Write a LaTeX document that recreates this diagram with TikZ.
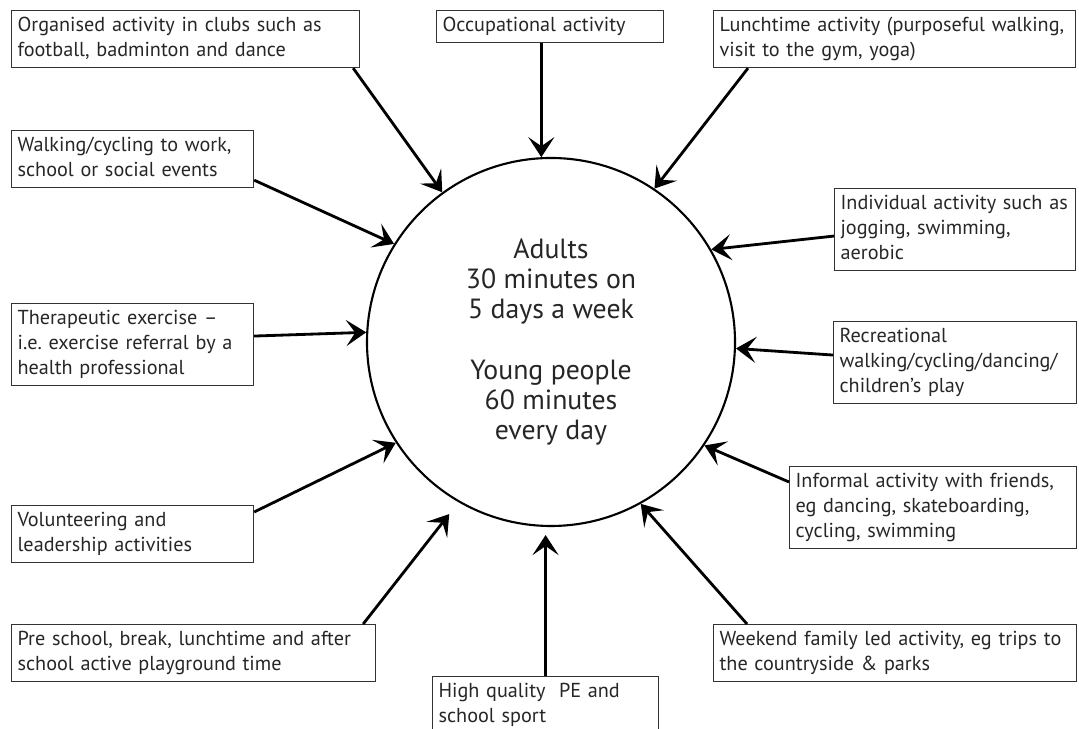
\documentclass[tikz,border=0pt]{standalone}
\usepackage{fontspec}
\setmainfont{PT Sans}
\usetikzlibrary{arrows.meta,calc,positioning}

\begin{document}
\begin{tikzpicture}[x=0.2mm,y=-0.2mm,
    >={Stealth[length=4mm,width=5.2mm,inset=1.8mm]},
    box/.style={draw=black!80,line width=0.7pt,anchor=north west,align=left,
      inner xsep=3.4pt,inner ysep=2pt,text=black!85,
      font=\fontsize{11.5}{14.2}\selectfont,
      execute at begin node=\strut,execute at end node=\strut},
    hub/.style={circle,draw,line width=1.2pt,minimum size=73.6mm,align=center,
      text=black!85,font=\fontsize{15.8}{17.1}\selectfont},
    feed/.style={->,line width=1.6pt}]
    \useasboundingbox (0,0) rectangle (1079,729);
    \clip (0,0) rectangle (1079,729);

    % centre
    \node[hub] (hub) at (551,342) {Adults\\30 minutes on\\5 days a week\\[17.1pt]Young people\\60 minutes\\every day};

    % boxes round the centre
    \node[box,text width=67.2mm] (org) at (11,10) {Organised activity in clubs such as\\football, badminton and dance};
    \node[box,text width=43mm] (occ) at (436,10) {Occupational activity};
    \node[box,text width=70mm] (lunch) at (713,10) {Lunchtime activity (purposeful walking,\\visit to the gym, yoga)};
    \node[box,text width=46mm] (walk) at (11,130) {Walking/cycling to work,\\school or social events};
    \node[box,text width=45.8mm] (indiv) at (834,188) {Individual activity such as\\jogging, swimming,\\aerobic};
    \node[box,text width=46mm] (thera) at (11,303) {Therapeutic exercise –\\i.e.\ exercise referral by a\\health professional};
    \node[box,text width=46.2mm] (recr) at (833,321) {Recreational\\walking/cycling/dancing/\\children’s play};
    \node[box,text width=55mm] (inform) at (789,466) {Informal activity with friends,\\eg dancing, skateboarding,\\cycling, swimming};
    \node[box,text width=46mm] (volun) at (11,505) {Volunteering and\\leadership activities};
    \node[box,text width=70.4mm] (pre) at (11,624) {Pre school, break, lunchtime and after\\school active playground time};
    \node[box,text width=42.8mm] (high) at (432,676) {High quality\ \ PE and\\school sport};
    \node[box,text width=70.2mm] (week) at (713,624) {Weekend family led activity, eg trips to\\the countryside \& parks};

    % arrows into the centre
    \draw[feed] ([xshift=-1.4mm]org.south east) -- (hub.126);
    \draw[feed] (occ.south -| hub.93) -- (hub.93);
    \draw[feed] ([xshift=7mm]lunch.south west) -- (hub.56);
    \draw[feed] ([yshift=1.6mm]walk.south east) -- (hub.148);
    \draw[feed] ([yshift=-1.3mm]indiv.west) -- (hub.30);
    \draw[feed] ([yshift=1.7mm]thera.east) -- (hub.177);
    \draw[feed] ([yshift=1.5mm]recr.west) -- (hub.-2);
    \draw[feed] ([yshift=-3.2mm]inform.north west) -- (hub.-34);
    \draw[feed] ([yshift=-1.4mm]volun.north east) -- (hub.213);
    \draw[feed,shorten >=3mm] ([xshift=-2.6mm]pre.north east) -- (hub.240);
    \draw[feed,shorten >=1.6mm] (high.north) -- (high.north |- hub.south);
    \draw[feed] ([xshift=6.8mm]week.north west) -- (hub.-61);
\end{tikzpicture}
\end{document}
